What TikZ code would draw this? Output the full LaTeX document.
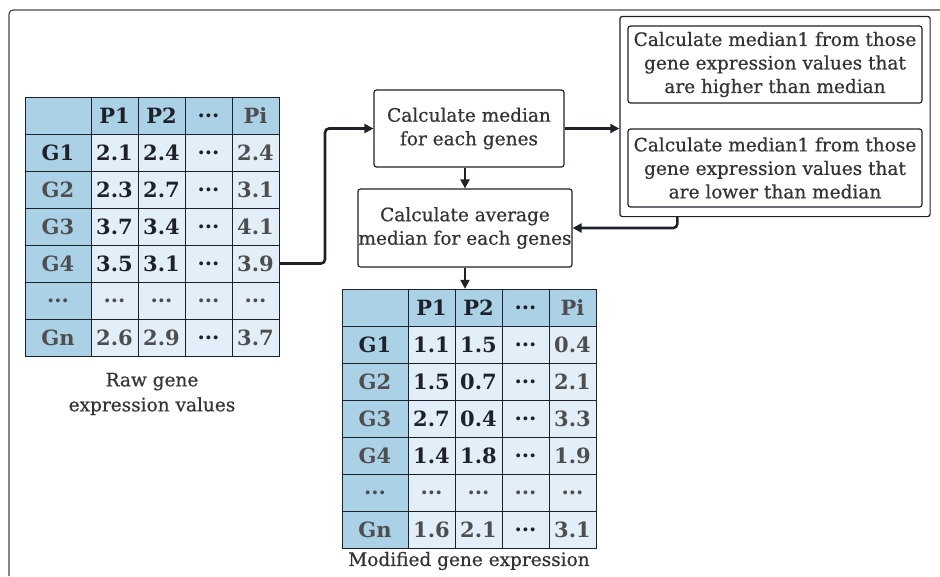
\documentclass[tikz,border=0pt]{standalone}
\usepackage{fontspec}
\setmainfont{DejaVu Serif}
\newfontfamily\medface[FakeBold=0.6]{DejaVu Serif}
\usetikzlibrary{positioning, arrows.meta, fit}
\definecolor{ink}{RGB}{30,34,40}
\definecolor{txt}{RGB}{52,52,52}
\definecolor{dim}{RGB}{78,78,78}
\definecolor{deep}{RGB}{170,209,229}
\definecolor{pale}{RGB}{226,239,249}
\definecolor{rim}{RGB}{72,72,72}
\newcommand{\boxfont}{\medface\fontsize{18.5}{23.5}\selectfont}
\newcommand{\tabfont}{\fontsize{21}{22}\selectfont\bfseries}
\newcommand{\ddd}{...}
% one expression table: name, left, top, rows of style/text
\newcommand{\exprtable}[4]{%
  \foreach \row [count=\r from 0] in {#4} {
    \foreach \sty/\txt [count=\c from 0] in \row {
      \pgfmathsetmacro{\cx}{\c==0 ? 33 : 42.5+47*\c}
      \pgfmathsetmacro{\cw}{\c==0 ? 66 : 47}
      \node[\sty, minimum width=\cw pt] (#1-\r-\c) at (#2+\cx, #3+37*\r+18.5) {\txt};
    }
  }
  \node[fit=(#1-0-0)(#1-6-4), inner sep=0pt] (#1tab) {};
}

\begin{document}
\begin{tikzpicture}[
  x=1pt, y=-1pt,
  cell/.style={draw=ink, line width=0.8pt, minimum height=37pt, inner sep=0pt,
               outer sep=0pt, font=\tabfont},
  hd/.style={cell, fill=deep, text=ink},
  hg/.style={cell, fill=deep, text=dim},
  vb/.style={cell, fill=pale, text=ink},
  vg/.style={cell, fill=pale, text=dim},
  box/.style={draw=ink, line width=1.2pt, rounded corners=2.5pt, fill=white,
              align=center, text=txt, font=\boxfont, inner sep=0pt},
  grp/.style={draw=ink, line width=1.2pt, rounded corners=2.5pt},
  tabnote/.style={font=\medface\fontsize{18.5}{25}\selectfont, text=txt, align=center},
  flow/.style={-{Triangle[length=9pt, width=9pt]}, draw=ink, line width=2.6pt,
               rounded corners=4pt},
  rimline/.style={draw=rim, line width=1.2pt, rounded corners=4pt}]

  \useasboundingbox (0,0) rectangle (940,576);
  \draw[rimline] (9,576) |- (940,10);

  % --- raw values
  \exprtable{raw}{25}{97}{
    {hd/{}, hd/P1, hd/P2, hd/\ddd, hg/Pi},
    {hd/G1, vb/2.1, vb/2.4, vb/\ddd, vg/2.4},
    {hg/G2, vb/2.3, vb/2.7, vb/\ddd, vg/3.1},
    {hg/G3, vb/3.7, vb/3.4, vb/\ddd, vg/4.1},
    {hg/G4, vb/3.5, vb/3.1, vb/\ddd, vg/3.9},
    {hg/\ddd, vg/\ddd, vg/\ddd, vg/\ddd, vg/\ddd},
    {hg/Gn, vg/2.6, vg/2.9, vb/\ddd, vg/3.7}}
  \node[tabnote] (rawcap) at (152,394) {Raw gene\\expression values};

  % --- median steps
  \node[box, minimum width=190pt, minimum height=77pt] (med) at (469,128.5)
    {Calculate median\\for each genes};
  \node[box, minimum width=214pt, minimum height=78pt] (avg) at (465,228)
    {Calculate average\\median for each genes};
  \node[box, minimum width=294pt, minimum height=77pt] (hi) at (775,64.5)
    {Calculate median1 from those\\gene expression values that\\are higher than median};
  \node[box, minimum width=294pt, minimum height=78pt] (lo) at (775,168)
    {Calculate median1 from those\\gene expression values that\\are lower than median};
  \node[grp, fit=(hi)(lo), inner xsep=7.5pt, inner ysep=9pt] (split) {};

  % --- modified values
  \exprtable{mod}{342}{289}{
    {hd/{}, hd/P1, hd/P2, hd/\ddd, hg/Pi},
    {hd/G1, vb/1.1, vb/1.5, vb/\ddd, vg/0.4},
    {hg/G2, vb/1.5, vb/0.7, vb/\ddd, vg/2.1},
    {hg/G3, vb/2.7, vb/0.4, vb/\ddd, vg/3.3},
    {hg/G4, vb/1.4, vb/1.8, vb/\ddd, vg/1.9},
    {hg/\ddd, vg/\ddd, vg/\ddd, vg/\ddd, vg/\ddd},
    {hg/Gn, vg/1.6, vg/2.1, vb/\ddd, vg/3.1}}
  \node[tabnote] (modcap) at (469,561) {Modified gene expression};

  \draw[flow] (raw-4-4.east) -- ++(46,0) |- (med.west);
  \draw[flow] (med.east) -- (med.east -| split.west);
  \draw[flow] (avg.north |- med.south) -- (avg.north);
  \draw[flow] ([xshift=58pt]split.south west) |- (avg.east);
  \draw[flow] (avg.south) -- (avg.south |- modtab.north);
\end{tikzpicture}
\end{document}
